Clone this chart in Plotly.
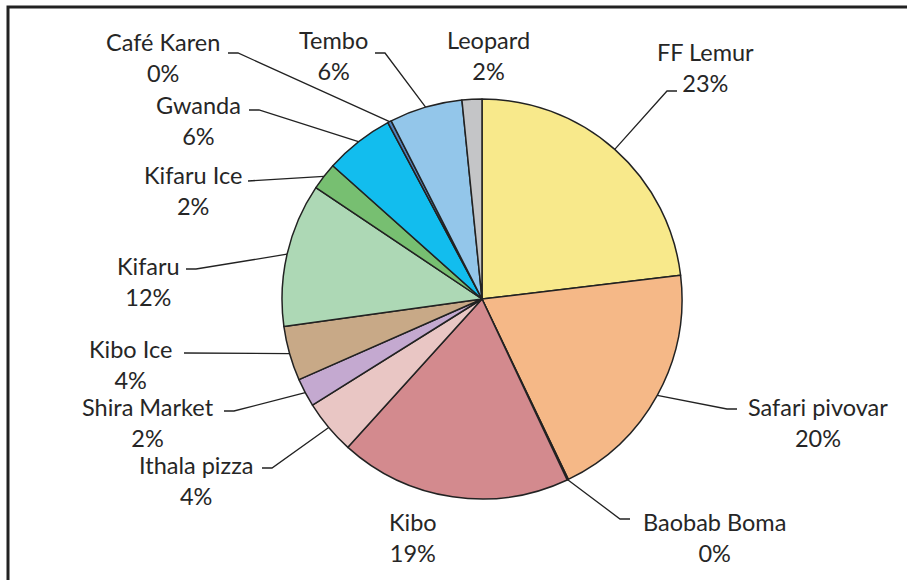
import math

import plotly.graph_objects as go

# ----------------------------------------------------------------------------
# Data (slices listed clockwise from 12 o'clock)
# ----------------------------------------------------------------------------
venues = [
    "FF Lemur", "Safari pivovar", "Baobab Boma", "Kibo", "Ithala pizza",
    "Shira Market", "Kibo Ice", "Kifaru", "Kifaru Ice", "Gwanda",
    "Café Karen", "Tembo", "Leopard",
]
shares = [23.1, 19.8, 0.1, 18.7, 4.4, 2.3, 4.4, 11.6, 2.2, 5.6, 0.3, 5.9, 1.6]
slice_colors = [
    "#F8E98B", "#F5B887", "#9BBB59", "#D38A8E", "#E9C6C4",
    "#C4A9D0", "#C8A987", "#ADD8B5", "#77BF71", "#12BDEE",
    "#4F81BD", "#93C6EA", "#C4C5C7",
]

# ----------------------------------------------------------------------------
# Layout (pixels)
# ----------------------------------------------------------------------------
W, H = 907, 580
CX, CY, R = 482, 299, 200
INK = "#262626"
FONT = "Lato, 'Open Sans', sans-serif"

# label block centre and outer end of its leader line (None = no leader)
LABELS = {
    "FF Lemur": ((705, 67), (677, 91)),
    "Safari pivovar": ((818, 422), (737, 409)),
    "Baobab Boma": ((714, 537), (630, 519)),
    "Kibo": ((413, 537), None),
    "Ithala pizza": ((196, 480), (262, 468)),
    "Shira Market": ((148, 422), (224, 411)),
    "Kibo Ice": ((130, 364), (184, 353)),
    "Kifaru": ((148, 281), (186, 269)),
    "Kifaru Ice": ((193, 190), (248, 181)),
    "Gwanda": ((198, 120), (249, 110)),
    "Café Karen": ((163, 57), (228, 53)),
    "Tembo": ((333, 55), (375, 53)),
    "Leopard": ((488, 55), None),
}

fig = go.Figure()

fig.add_trace(go.Pie(
    labels=venues, values=shares, sort=False, direction="clockwise", rotation=0,
    marker=dict(colors=slice_colors, line=dict(color="#222222", width=1.5)),
    textinfo="none", hoverinfo="label+percent", showlegend=False,
    domain=dict(x=[(CX - R) / W, (CX + R) / W], y=[1 - (CY + R) / H, 1 - (CY - R) / H]),
))

# leader lines from each slice's arc midpoint to its label
total = sum(shares)
lx, ly = [], []
annotations = []
cum = 0.0
for name, val in zip(venues, shares):
    mid = (cum + val / 2) / total * 2 * math.pi
    cum += val
    (tx, ty), end = LABELS[name]
    pct = round(val / total * 100)
    annotations.append(dict(
        x=tx, y=ty, xref="x", yref="y", text=f"{name}<br>{pct}%", showarrow=False,
        align="center", font=dict(family=FONT, size=23.5, color=INK),
    ))
    if end is None:
        continue
    ax, ay = CX + R * math.sin(mid), CY - R * math.cos(mid)
    ex, ey = end
    elbow = ex + 10 * (1 if ex < CX else -1)
    lx += [ax, elbow, ex, None]
    ly += [ay, ey, ey, None]

fig.add_trace(go.Scatter(
    x=lx, y=ly, mode="lines", line=dict(color="#222222", width=1.3),
    hoverinfo="skip", showlegend=False,
))

fig.update_layout(
    width=W, height=H, margin=dict(l=0, r=0, t=0, b=0),
    paper_bgcolor="white", plot_bgcolor="rgba(0,0,0,0)",
    xaxis=dict(range=[0, W], visible=False, fixedrange=True),
    yaxis=dict(range=[H, 0], visible=False, fixedrange=True),
    annotations=annotations,
    shapes=[dict(type="rect", xref="x", yref="y", x0=8, y0=7, x1=W + 20, y1=H + 20,
                 line=dict(color="#222222", width=3))],
)

fig.write_html(
    "out.html",
    config=dict(displayModeBar=False),
    post_script="document.body.style.margin='0';",
)
